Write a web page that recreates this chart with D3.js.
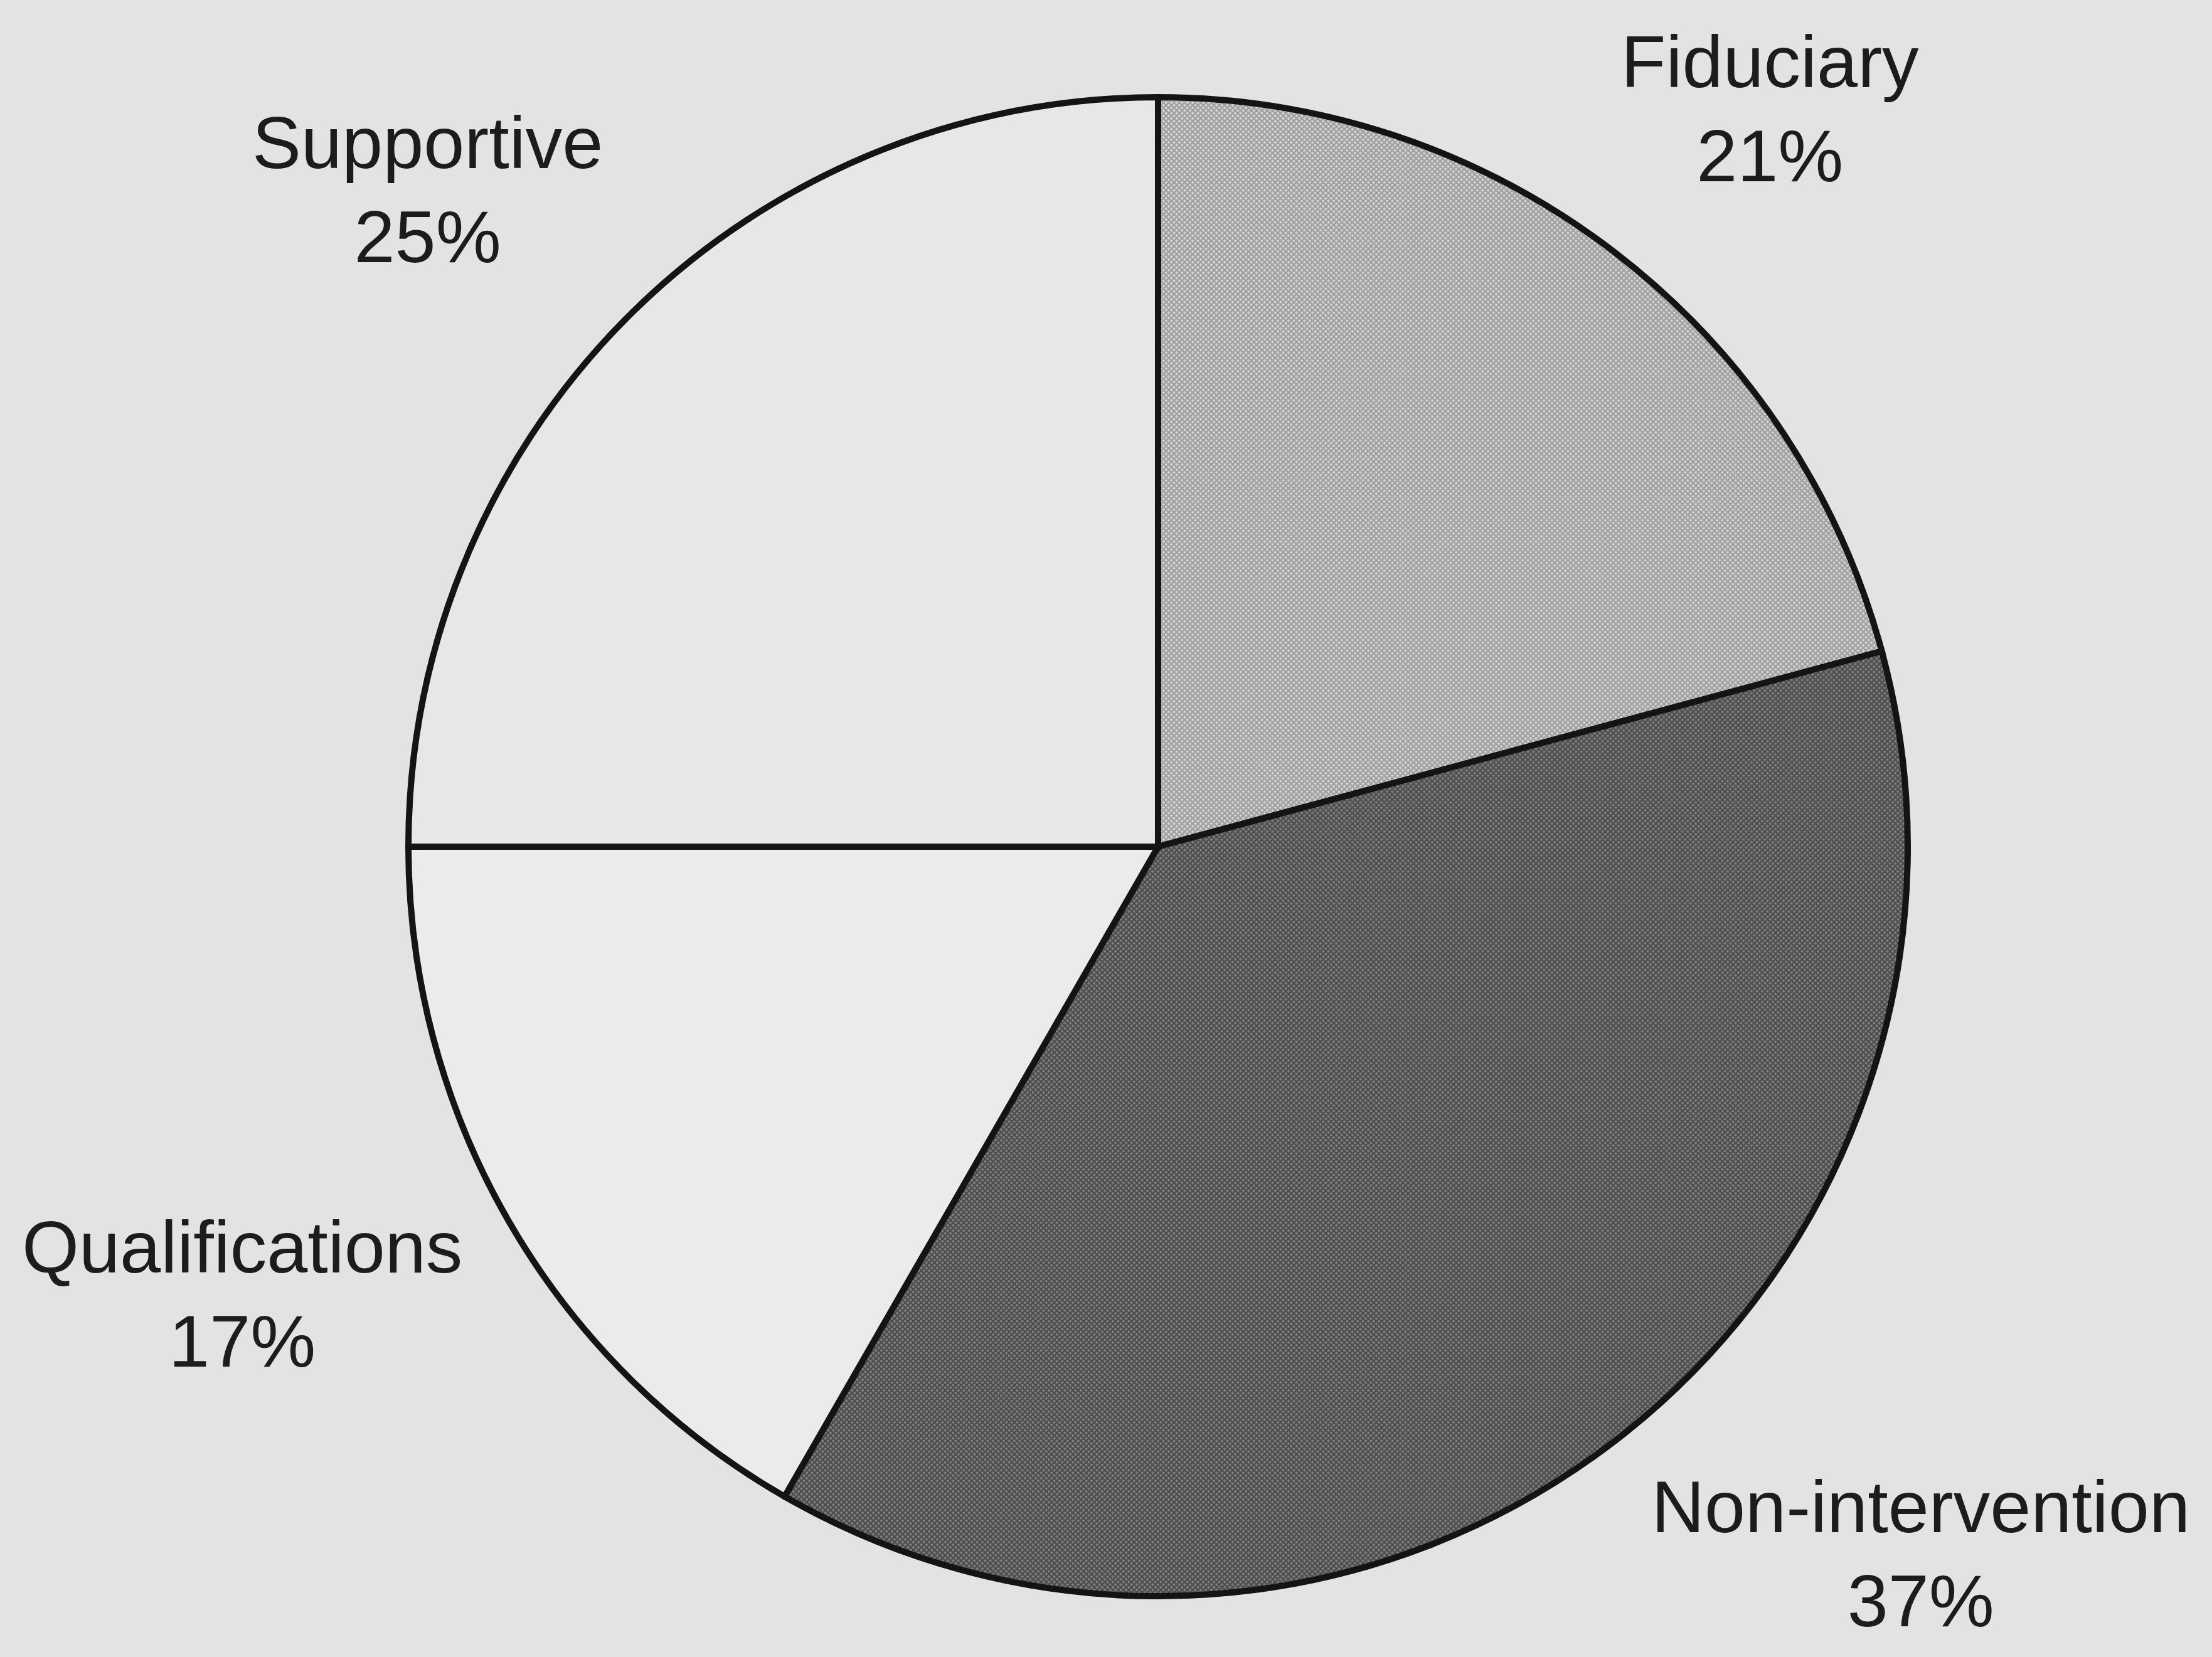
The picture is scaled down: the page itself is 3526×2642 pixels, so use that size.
<!DOCTYPE html>
<html>
<head>
<meta charset="utf-8">
<script src="https://cdn.jsdelivr.net/npm/d3@7"></script>
<style>
  html, body { margin: 0; padding: 0; background: #e3e3e3; }
  svg { display: block; }
</style>
</head>
<body>
<script>
// ---- data ----
const categories = ["Fiduciary", "Non-intervention", "Qualifications", "Supportive"];
const values = [20.8, 37.5, 16.7, 25.0];
const pctLabels = ["21%", "37%", "17%", "25%"];
const fills = ["url(#patFid)", "url(#patNon)", "#ebebeb", "#e7e7e7"];

// ---- layout ----
const W = 3526, H = 2642;
const cx = 1846, cy = 1350, R = 1195;
const labelRTop = 1367, labelRBottom = 1305, sideMargin = 35;
const fontSize = 117, lineGap = 150, capH = 84;

const svg = d3.select("body").append("svg")
  .attr("width", W).attr("height", H);

svg.append("rect").attr("width", W).attr("height", H).attr("fill", "#e3e3e3");

const defs = svg.append("defs");
function hatch(id, base, line) {
  const p = defs.append("pattern").attr("id", id)
    .attr("patternUnits", "userSpaceOnUse").attr("width", 6).attr("height", 6)
    .attr("patternTransform", "rotate(45)");
  p.append("rect").attr("width", 6).attr("height", 6).attr("fill", base);
  p.append("rect").attr("x", 0).attr("y", 0).attr("width", 2).attr("height", 6).attr("fill", line);
  p.append("rect").attr("x", 0).attr("y", 0).attr("width", 6).attr("height", 2).attr("fill", line);
}
hatch("patFid", "#cfcfcf", "#9c9c9c");
hatch("patNon", "#7a7a7a", "#4a4a4a");

const data = categories.map((c, i) => ({ name: c, value: values[i], pct: pctLabels[i], fill: fills[i] }));

const pie = d3.pie().value(d => d.value).sort(null).startAngle(0).endAngle(2 * Math.PI);
const arcs = pie(data);
const arc = d3.arc().innerRadius(0).outerRadius(R);

const g = svg.append("g").attr("transform", `translate(${cx},${cy})`);

g.selectAll("path.slice").data(arcs).join("path")
  .attr("class", "slice")
  .attr("d", arc)
  .attr("fill", d => d.data.fill)
  .attr("stroke", "#141414")
  .attr("stroke-width", 10)
  .attr("stroke-linejoin", "miter");

// ---- labels placed outside each slice along its mid-angle ----
const lg = g.append("g")
  .attr("font-family", "'Liberation Sans', Arial, sans-serif")
  .attr("font-size", fontSize)
  .attr("fill", "#1c1c1c")
  .attr("text-anchor", "middle");

arcs.forEach(a => {
  const mid = (a.startAngle + a.endAngle) / 2;
  const s = Math.sin(mid), c = -Math.cos(mid);
  const t = lg.append("text");
  t.append("tspan").attr("x", 0).attr("y", 0).text(a.data.name);
  const w1 = t.node().getComputedTextLength();
  const hBox = capH + lineGap;
  const bottom = c > 0;
  const lr = bottom ? labelRBottom : labelRTop;
  const px = lr * s, py = lr * c;
  let bx = bottom ? px + (w1 / 2) * Math.sign(s) : px + (w1 / 2) * s;
  const by = py + (hBox / 2) * c;
  // keep the label box inside the chart area horizontally
  const minX = sideMargin - cx + w1 / 2, maxX = W - sideMargin - cx - w1 / 2;
  bx = Math.max(minX, Math.min(maxX, bx));
  const top = by - hBox / 2;
  t.select("tspan").attr("x", bx).attr("y", top + capH);
  t.append("tspan").attr("x", bx).attr("y", top + capH + lineGap).text(a.data.pct);
});
</script>
</body>
</html>
